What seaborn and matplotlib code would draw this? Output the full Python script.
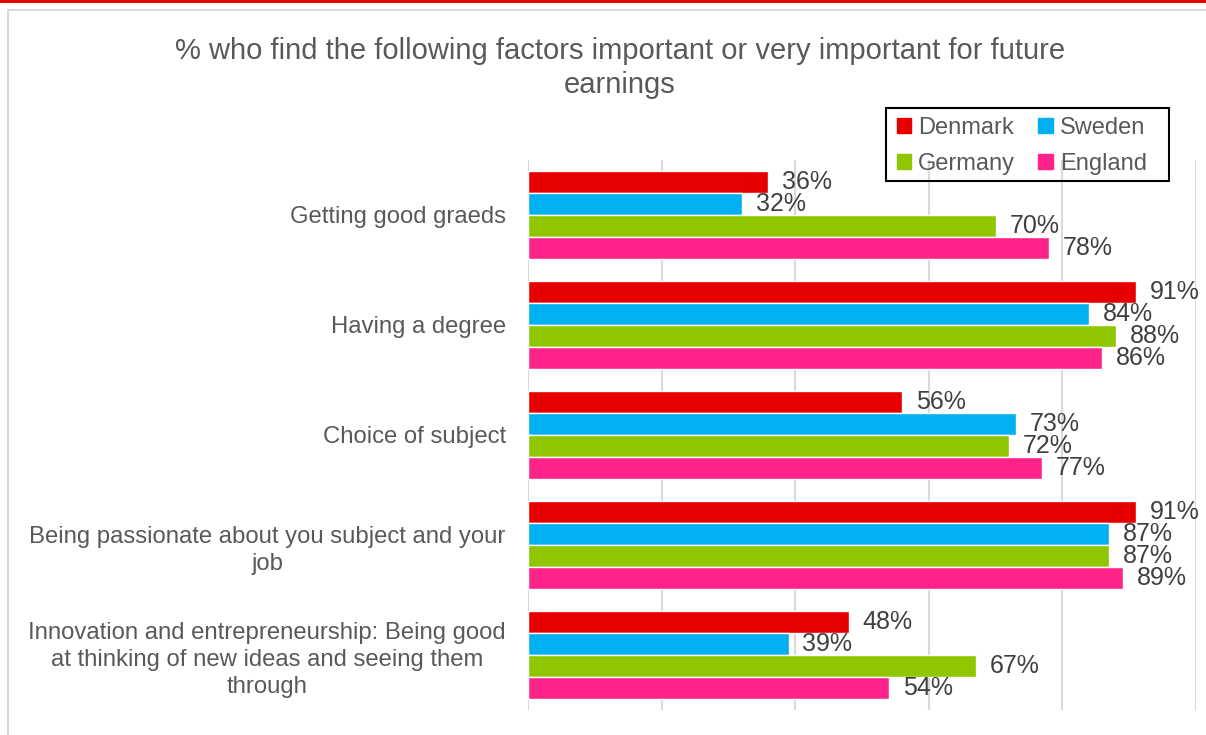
import matplotlib
matplotlib.use("Agg")
import matplotlib.pyplot as plt
import seaborn as sns
import pandas as pd
from matplotlib.lines import Line2D
from matplotlib.patches import Rectangle

categories = [
    "Getting good graeds",
    "Having a degree",
    "Choice of subject",
    "Being passionate about you subject and your\njob",
    "Innovation and entrepreneurship: Being good\nat thinking of new ideas and seeing them\nthrough",
]
countries = ["Denmark", "Sweden", "Germany", "England"]
denmark = [36, 91, 56, 91, 48]
sweden = [32, 84, 73, 87, 39]
germany = [70, 88, 72, 87, 67]
england = [78, 86, 77, 89, 54]
colors = ["#E60000", "#00B0F0", "#8FC600", "#FF2389"]

rows = []
for country, vals in zip(countries, [denmark, sweden, germany, england]):
    for cat, v in zip(categories, vals):
        rows.append({"Factor": cat, "Country": country, "Value": v})
df = pd.DataFrame(rows)

sns.set_style("white")
plt.rcParams["font.family"] = ["Liberation Sans", "DejaVu Sans"]
txt = "#595959"

fig = plt.figure(figsize=(12.06, 7.35), dpi=100)
ax = fig.add_axes([528 / 1206, 1 - 710 / 735, (1196 - 528) / 1206, 550 / 735])

sns.barplot(data=df, y="Factor", x="Value", hue="Country", hue_order=countries,
            order=categories, palette=colors, orient="h", width=0.8,
            saturation=1, ax=ax, legend=False)

for c in ax.containers:
    ax.bar_label(c, fmt="{:.0f}%", padding=10, fontsize=18, color="#404040")

ax.set_xlim(0, 100)
ax.set_xticks([0, 20, 40, 60, 80, 100])
ax.set_xticklabels([])
ax.grid(axis="x", color="#D9D9D9", linewidth=1.5)
ax.grid(axis="y", visible=False)
for s in ax.spines.values():
    s.set_visible(False)
ax.tick_params(axis="both", length=0)
ax.tick_params(axis="y", pad=16, labelsize=17.2, labelcolor=txt)
for lab in ax.get_yticklabels():
    lab.set_multialignment("center")
    lab.set_linespacing(1.3)
ax.set_xlabel("")
ax.set_ylabel("")

# row-wise legend order: Denmark, Sweden / Germany, England
order = [0, 2, 1, 3]
handles = [Rectangle((0, 0), 1, 1, color=colors[i]) for i in order]
labels = [countries[i] for i in order]
leg = fig.legend(handles, labels, ncol=2, loc="upper left",
                 bbox_to_anchor=(886 / 1206, 1 - 106 / 735), frameon=False,
                 fontsize=17, handlelength=0.6, handleheight=0.6,
                 handletextpad=0.3, columnspacing=1.0, borderpad=0.45,
                 labelspacing=0.62, labelcolor=txt, borderaxespad=0)
fig.add_artist(Rectangle((886 / 1206, 1 - 181 / 735), (1169 - 886) / 1206, 73 / 735,
                         transform=fig.transFigure, fill=False,
                         edgecolor="black", lw=1.5, zorder=5))

fig.text(620 / 1206, 1 - 68 / 735,
         "% who find the following factors important or very important for future\nearnings",
         ha="center", va="center", fontsize=21, color=txt, linespacing=1.3)

# decorative frame
fig.add_artist(Rectangle((0, 1 - 3 / 735), 1, 3 / 735, transform=fig.transFigure,
                         color="#E60000", lw=0))
fig.add_artist(Line2D([8 / 1206, 1], [1 - 10 / 735, 1 - 10 / 735],
                      transform=fig.transFigure, color="#D9D9D9", lw=1.5))
fig.add_artist(Line2D([8 / 1206, 8 / 1206], [0, 1 - 10 / 735],
                      transform=fig.transFigure, color="#D9D9D9", lw=1.5))

fig.savefig("out.png", dpi=100)
